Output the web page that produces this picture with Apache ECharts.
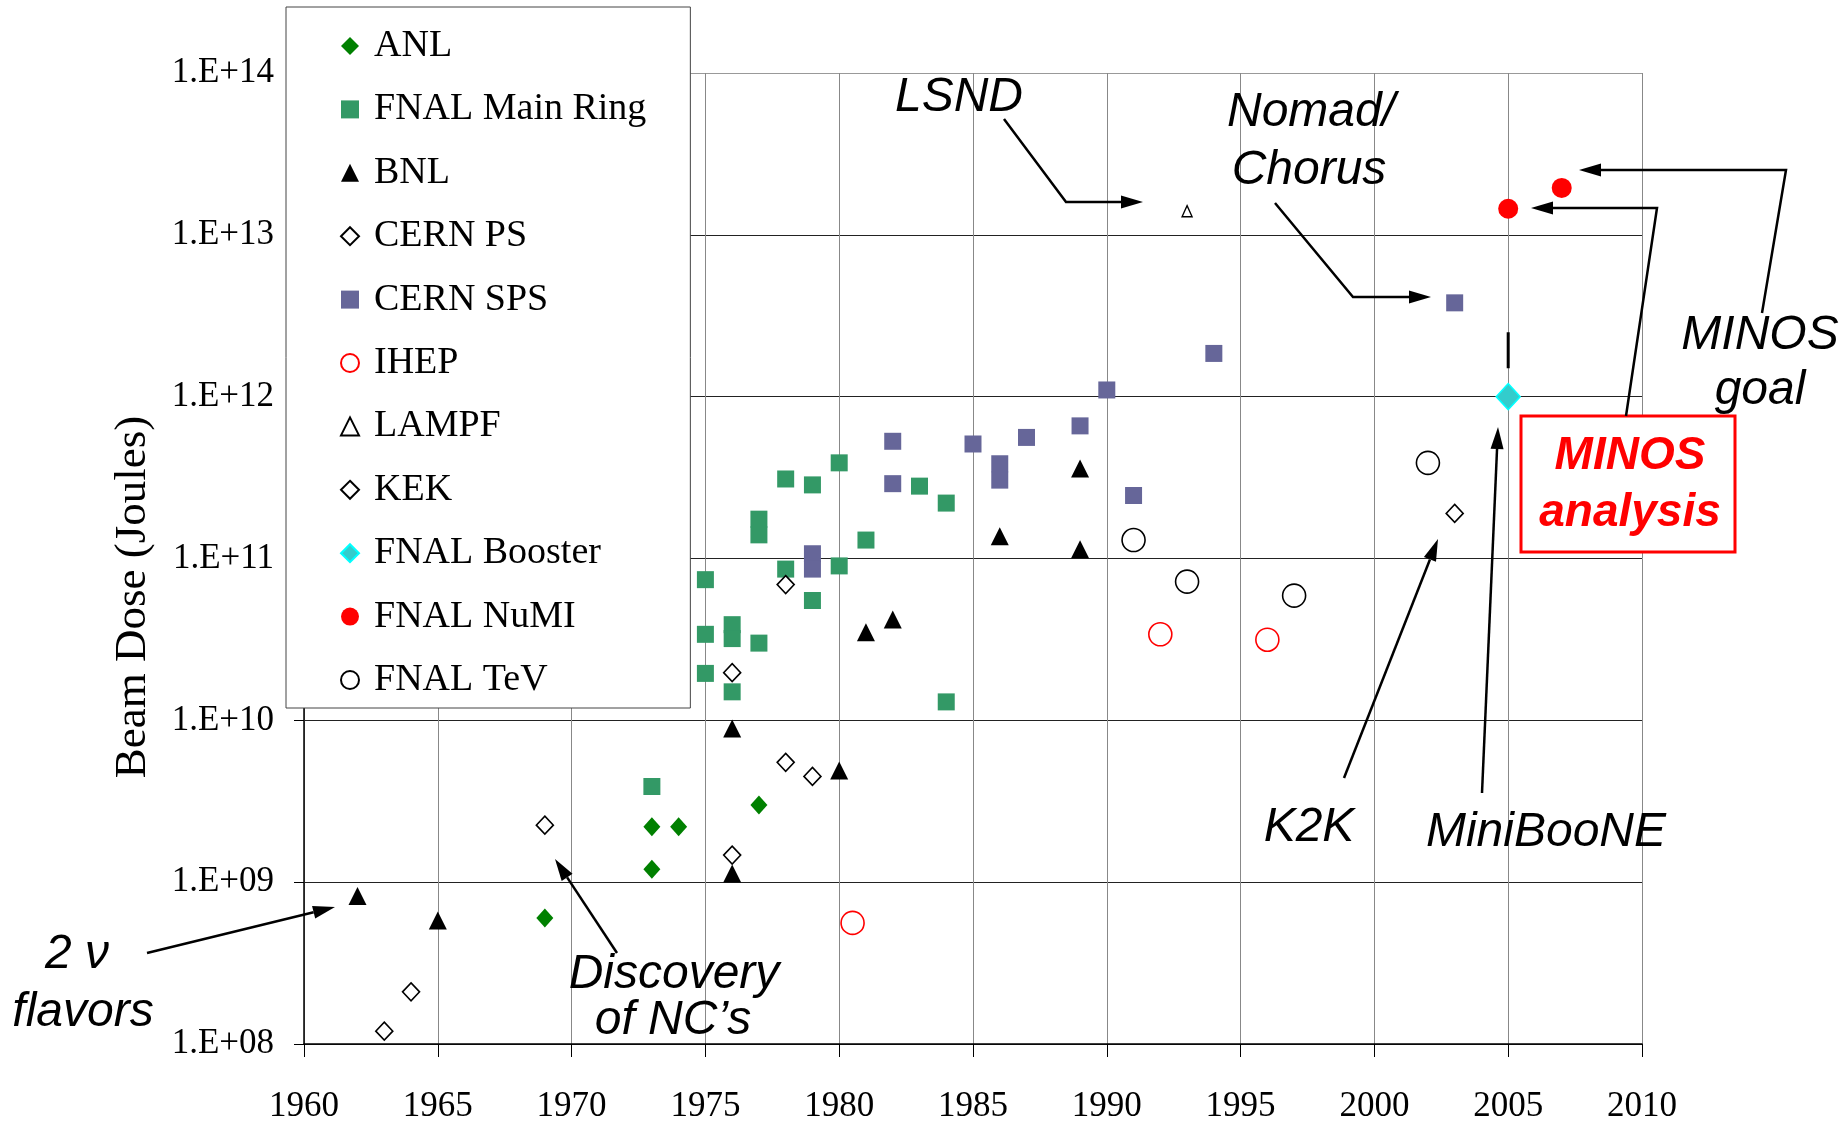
<!DOCTYPE html>
<html>
<head>
<meta charset="utf-8">
<script src="https://cdn.jsdelivr.net/npm/echarts/dist/echarts.min.js"></script>
<style>
  html, body { margin: 0; padding: 0; background: #fff; }
  #main { width: 1845px; height: 1124px; }
</style>
</head>
<body>
<div id="main"></div>
<script>
// [year, beam dose in Joules]
var anl = [[1969, 6.0e8], [1973, 2.2e9], [1974, 2.2e9], [1973, 1.2e9], [1977, 3.0e9]];
var fnalMainRing = [[1973, 3.9e9], [1975, 7.4e10], [1975, 3.4e10], [1975, 1.95e10], [1976, 3.9e10], [1976, 3.2e10],
	[1976, 1.5e10], [1977, 1.75e11], [1977, 1.4e11], [1977, 3.0e10], [1978, 3.1e11], [1978, 8.6e10], [1979, 2.85e11],
	[1979, 5.5e10], [1980, 3.9e11], [1980, 9.0e10], [1981, 1.3e11], [1983, 2.8e11], [1984, 2.2e11], [1984, 1.3e10]];
var bnl = [[1962, 8.2e8], [1965, 5.8e8], [1976, 8.9e9], [1976, 1.13e9], [1980, 4.9e9], [1981, 3.5e10], [1982, 4.2e10],
	[1986, 1.37e11], [1989, 3.6e11], [1989, 1.14e11]];
var cernPs = [[1963, 1.2e8], [1964, 2.1e8], [1969, 2.25e9], [1976, 1.47e9], [1976, 1.97e10], [1978, 5.5e9], [1979, 4.5e9], [1978, 6.9e10]];
var cernSps = [[1979, 1.07e11], [1979, 8.6e10], [1982, 5.3e11], [1982, 2.9e11], [1985, 5.1e11], [1986, 3.85e11], [1986, 3.05e11],
	[1987, 5.6e11], [1989, 6.6e11], [1990, 1.1e12], [1991, 2.45e11], [1994, 1.85e12], [2003, 3.8e12]];
var ihep = [[1980.5, 5.6e8], [1992, 3.4e10], [1996, 3.15e10]];
var lampf = [[1993, 1.4e13]];
var kek = [[2003, 1.9e11]];
var fnalBooster = [[2005, 1.0e12]];
var fnalNumi = [[2005, 1.45e13], [2007, 1.95e13]];
var fnalTev = [[1991, 1.3e11], [1993, 7.2e10], [1997, 5.9e10], [2002, 3.9e11]];
var boosterBar = [[2005, 1.5e12], [2005, 2.5e12]];

var legendNames = ['ANL', 'FNAL Main Ring', 'BNL', 'CERN PS', 'CERN SPS', 'IHEP', 'LAMPF', 'KEK', 'FNAL Booster', 'FNAL NuMI', 'FNAL TeV'];
var yearTicks = { min: 1960, max: 2010, step: 5 };
var doseRange = { min: 1e8, max: 1e14 };

var serif = '"Liberation Serif", "Times New Roman", serif';
var sans = '"Liberation Sans", Arial, sans-serif';

function scatter(name, data, symbol, size, style) {
	style.opacity = 1;
	return {
		name: name,
		type: 'scatter',
		data: data,
		symbol: symbol,
		symbolSize: size,
		itemStyle: style,
		emphasis: { disabled: true }
	};
}

// black arrow: polyline with a filled head at its last point
function arrow(pts) {
	var n = pts.length, a = pts[n - 2], b = pts[n - 1];
	var dx = b[0] - a[0], dy = b[1] - a[1];
	var len = Math.sqrt(dx * dx + dy * dy);
	var ux = dx / len, uy = dy / len;
	var L = 22, W = 6.5;
	var base = [b[0] - ux * L, b[1] - uy * L];
	return [{
		type: 'polyline', z: 100,
		shape: { points: pts.slice(0, n - 1).concat([base]) },
		style: { stroke: '#000', lineWidth: 2.5, fill: null }
	}, {
		type: 'polygon', z: 100,
		shape: { points: [b, [base[0] - uy * W, base[1] + ux * W], [base[0] + uy * W, base[1] - ux * W]] },
		style: { fill: '#000' }
	}];
}

function label(text, x, y, opts) {
	opts = opts || {};
	return {
		type: 'text', z: 101, x: x, y: y, rotation: opts.rotation || 0,
		style: {
			text: text,
			font: opts.font || ('italic 48px ' + sans),
			fill: opts.color || '#000',
			align: 'center',
			verticalAlign: 'middle'
		}
	};
}

var graphics = [];
graphics.push(label('Beam Dose (Joules)', 133, 597, { font: '45px ' + serif, rotation: Math.PI / 2 }));
graphics.push(label('LSND', 959, 98));
graphics.push(label('Nomad/', 1311, 113));
graphics.push(label('Chorus', 1309, 171));
graphics.push(label('MINOS', 1760, 336));
graphics.push(label('goal', 1760, 391));
graphics.push(label('K2K', 1309, 828));
graphics.push(label('MiniBooNE', 1546, 833));
graphics.push(label('2 \u03bd', 77, 955));
graphics.push(label('flavors', 83, 1013));
graphics.push(label('Discovery', 674, 975));
graphics.push(label('of NC\u2019s', 673, 1021));
graphics.push({
	type: 'rect', z: 99,
	shape: { x: 1521, y: 416, width: 214, height: 136 },
	style: { fill: '#fff', stroke: '#ff0000', lineWidth: 3 }
});
graphics.push(label('MINOS', 1630, 456, { font: 'italic bold 46px ' + sans, color: '#ff0000' }));
graphics.push(label('analysis', 1630, 513, { font: 'italic bold 46px ' + sans, color: '#ff0000' }));

graphics = graphics
	.concat(arrow([[147, 953], [335, 907]]))
	.concat(arrow([[617, 953], [555, 859]]))
	.concat(arrow([[1004, 119], [1066, 202], [1143, 202]]))
	.concat(arrow([[1275, 203], [1353, 297], [1431, 297]]))
	.concat(arrow([[1762, 313], [1786, 170], [1579, 170]]))
	.concat(arrow([[1626, 416], [1657, 208], [1531, 208]]))
	.concat(arrow([[1344, 778], [1438, 539]]))
	.concat(arrow([[1482, 793], [1498, 427]]));

var option = {
	animation: false,
	backgroundColor: '#fff',
	grid: { left: 304, top: 73, width: 1338, height: 971, outerBoundsMode: 'none' },
	legend: {
		orient: 'vertical',
		left: 286,
		top: 7,
		padding: [19, 44, 8, 54],
		itemWidth: 18,
		itemHeight: 18,
		itemGap: 23.4,
		symbolKeepAspect: true,
		backgroundColor: '#fff',
		borderColor: '#444',
		borderWidth: 1,
		borderRadius: 0,
		selectedMode: false,
		textStyle: { fontFamily: serif, fontSize: 38, lineHeight: 40, color: '#000', padding: [0, 0, 0, 10] },
		data: legendNames
	},
	xAxis: {
		type: 'value',
		min: yearTicks.min,
		max: yearTicks.max,
		interval: yearTicks.step,
		axisLine: { lineStyle: { color: '#000', width: 1.5 } },
		axisTick: { show: true, length: 13, lineStyle: { color: '#000' } },
		axisLabel: {
			fontFamily: serif, fontSize: 35, color: '#000', margin: 45,
			formatter: function (v) { return String(v); }
		},
		splitLine: { show: true, lineStyle: { color: '#888', width: 1 } }
	},
	yAxis: {
		type: 'log',
		logBase: 10,
		min: doseRange.min,
		max: doseRange.max,
		axisLine: { show: true, lineStyle: { color: '#000', width: 1.5 } },
		axisTick: { show: true, length: 10, lineStyle: { color: '#000' } },
		axisLabel: {
			fontFamily: serif, fontSize: 35, color: '#000', margin: 30, padding: [10, 0, 0, 0],
			formatter: function (v) {
				var e = Math.round(Math.log(v) / Math.LN10);
				return '1.E+' + (e < 10 ? '0' + e : e);
			}
		},
		splitLine: {
			show: true,
			lineStyle: { color: ['#222', '#222', '#222', '#222', '#222', '#222', '#999'], width: 1.2 }
		}
	},
	graphic: graphics,
	series: [
		scatter('ANL', anl, 'diamond', [17, 19], { color: '#008000' }),
		scatter('FNAL Main Ring', fnalMainRing, 'rect', [17, 17], { color: '#339966' }),
		scatter('BNL', bnl, 'triangle', [18, 18], { color: '#000' }),
		scatter('CERN PS', cernPs, 'diamond', [17, 18], { color: '#fff', borderColor: '#000', borderWidth: 1.6 }),
		scatter('CERN SPS', cernSps, 'rect', [17, 17], { color: '#666699' }),
		scatter('IHEP', ihep, 'circle', 23, { color: '#fff', borderColor: '#ff0000', borderWidth: 1.6 }),
		scatter('LAMPF', lampf, 'triangle', [10, 11], { color: '#fff', borderColor: '#000', borderWidth: 1.4 }),
		scatter('KEK', kek, 'diamond', [17, 18], { color: '#fff', borderColor: '#000', borderWidth: 1.6 }),
		scatter('FNAL Booster', fnalBooster, 'diamond', [24, 26], { color: '#33cccc', borderColor: '#00ffff', borderWidth: 1.5 }),
		scatter('FNAL NuMI', fnalNumi, 'circle', 20, { color: '#ff0000' }),
		scatter('FNAL TeV', fnalTev, 'circle', 23, { color: '#fff', borderColor: '#000', borderWidth: 1.6 }),
		{
			name: 'booster bar',
			type: 'line',
			data: boosterBar,
			symbol: 'none',
			lineStyle: { color: '#000', width: 3 },
			emphasis: { disabled: true },
			silent: true
		}
	]
};

var chart = echarts.init(document.getElementById('main'));
chart.setOption(option);
</script>
</body>
</html>
